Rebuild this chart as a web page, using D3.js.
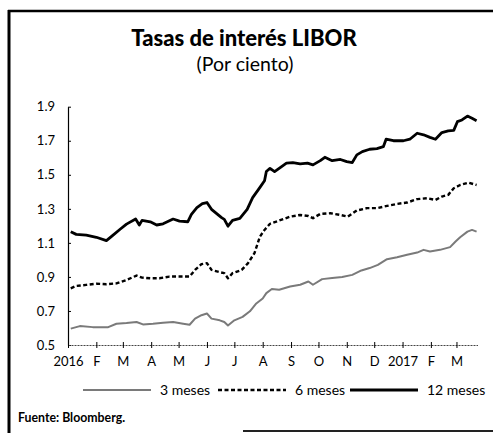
<!DOCTYPE html>
<html>
<head>
<meta charset="utf-8">
<script src="https://cdn.jsdelivr.net/npm/d3@7.9.0/dist/d3.min.js"></script>
<style>
  body { margin: 0; background: #fff; }
  svg { display: block; font-family: Lato, "Noto Sans", sans-serif; }
</style>
</head>
<body>
<svg width="493" height="433"></svg>
<script>
// dates and values for each series
const dates12 = ['2016-01-04','2016-01-10','2016-01-21','2016-02-01','2016-02-12','2016-02-18','2016-02-27','2016-03-05','2016-03-15','2016-03-19','2016-03-22','2016-03-31','2016-04-07','2016-04-14','2016-04-25','2016-05-02','2016-05-11','2016-05-15','2016-05-21','2016-05-27','2016-06-01','2016-06-06','2016-06-12','2016-06-17','2016-06-20','2016-06-24','2016-06-29','2016-07-07','2016-07-15','2016-07-21','2016-07-29','2016-08-03','2016-08-05','2016-08-09','2016-08-14','2016-08-19','2016-08-27','2016-09-03','2016-09-11','2016-09-19','2016-09-25','2016-10-03','2016-10-08','2016-10-16','2016-10-25','2016-11-01','2016-11-07','2016-11-12','2016-11-18','2016-11-26','2016-12-04','2016-12-11','2016-12-14','2016-12-22','2017-01-02','2017-01-09','2017-01-17','2017-01-24','2017-01-31','2017-02-06','2017-02-13','2017-02-20','2017-02-26','2017-03-02','2017-03-07','2017-03-13','2017-03-18','2017-03-23'];
const libor12 = [1.165,1.15,1.145,1.133,1.113,1.14,1.18,1.21,1.24,1.205,1.232,1.224,1.205,1.212,1.24,1.228,1.224,1.268,1.307,1.33,1.337,1.297,1.27,1.248,1.238,1.198,1.232,1.244,1.297,1.366,1.426,1.465,1.519,1.538,1.519,1.538,1.568,1.572,1.564,1.568,1.558,1.583,1.603,1.583,1.59,1.577,1.572,1.617,1.636,1.65,1.654,1.665,1.709,1.70,1.70,1.709,1.744,1.735,1.72,1.709,1.748,1.758,1.761,1.812,1.822,1.845,1.832,1.818];

const dates6 = ['2016-01-04','2016-01-10','2016-01-21','2016-02-01','2016-02-12','2016-02-23','2016-03-05','2016-03-16','2016-03-22','2016-03-31','2016-04-10','2016-04-21','2016-05-02','2016-05-13','2016-05-19','2016-05-26','2016-06-01','2016-06-06','2016-06-15','2016-06-20','2016-06-24','2016-06-29','2016-07-09','2016-07-16','2016-07-23','2016-07-29','2016-08-03','2016-08-09','2016-08-19','2016-08-31','2016-09-11','2016-09-20','2016-09-25','2016-10-03','2016-10-14','2016-10-25','2016-11-02','2016-11-12','2016-11-23','2016-12-04','2016-12-15','2016-12-26','2017-01-06','2017-01-17','2017-01-28','2017-02-06','2017-02-13','2017-02-20','2017-02-26','2017-03-05','2017-03-14','2017-03-23'];
const libor6 = [0.833,0.847,0.853,0.86,0.857,0.862,0.882,0.908,0.896,0.892,0.892,0.902,0.902,0.902,0.941,0.975,0.981,0.941,0.928,0.922,0.892,0.922,0.941,0.981,1.04,1.137,1.176,1.212,1.231,1.254,1.264,1.258,1.245,1.27,1.274,1.264,1.254,1.29,1.304,1.304,1.317,1.329,1.337,1.357,1.362,1.352,1.372,1.382,1.421,1.44,1.454,1.44];

const dates3 = ['2016-01-04','2016-01-14','2016-01-28','2016-02-14','2016-02-23','2016-03-05','2016-03-16','2016-03-23','2016-04-03','2016-04-14','2016-04-25','2016-05-06','2016-05-13','2016-05-19','2016-05-26','2016-06-01','2016-06-06','2016-06-15','2016-06-20','2016-06-24','2016-07-01','2016-07-10','2016-07-18','2016-07-25','2016-08-01','2016-08-05','2016-08-11','2016-08-19','2016-08-31','2016-09-11','2016-09-20','2016-09-25','2016-10-05','2016-10-16','2016-10-27','2016-11-07','2016-11-17','2016-11-26','2016-12-05','2016-12-15','2016-12-26','2017-01-06','2017-01-17','2017-01-24','2017-01-31','2017-02-11','2017-02-22','2017-02-28','2017-03-05','2017-03-13','2017-03-18','2017-03-23'];
const libor3 = [0.596,0.611,0.605,0.605,0.625,0.629,0.635,0.621,0.625,0.631,0.635,0.625,0.619,0.655,0.675,0.685,0.655,0.645,0.635,0.615,0.645,0.665,0.698,0.744,0.773,0.805,0.829,0.825,0.844,0.854,0.873,0.854,0.887,0.893,0.899,0.912,0.938,0.952,0.971,1.004,1.016,1.03,1.043,1.059,1.049,1.059,1.075,1.108,1.133,1.166,1.176,1.166];

const yTicks = [0.5, 0.7, 0.9, 1.1, 1.3, 1.5, 1.7, 1.9];
const monthTicks = ['2016-01-01','2016-02-01','2016-03-01','2016-04-01','2016-05-01','2016-06-01','2016-07-01','2016-08-01','2016-09-01','2016-10-01','2016-11-01','2016-12-01','2017-01-01','2017-02-01','2017-03-01'];
const monthLabels = ['2016','F','M','A','M','J','J','A','S','O','N','D','2017','F','M'];
const seriesNames = ['3 meses', '6 meses', '12 meses'];

const parse = d3.timeParse('%Y-%m-%d');
const svg = d3.select('svg');

// frame
svg.append('line').attr('x1', 9).attr('x2', 9).attr('y1', 10).attr('y2', 433)
  .attr('stroke', '#000').attr('stroke-width', 3);
svg.append('line').attr('x1', 8).attr('x2', 493).attr('y1', 11).attr('y2', 11)
  .attr('stroke', '#000').attr('stroke-width', 2.5);
svg.append('line').attr('x1', 243).attr('x2', 493).attr('y1', 431).attr('y2', 431)
  .attr('stroke', '#222').attr('stroke-width', 2);

// titles
svg.append('text').attr('x', 244).attr('y', 46).attr('text-anchor', 'middle')
  .attr('font-size', 22).attr('font-weight', 900).text('Tasas de interés LIBOR');
svg.append('text').attr('x', 245).attr('y', 71).attr('text-anchor', 'middle')
  .attr('font-size', 19.5).text('(Por ciento)');

// scales
const x = d3.scaleTime()
  .domain([parse('2016-01-01'), parse('2017-03-24')])
  .range([68, 477.5]);
const y = d3.scaleLinear().domain([0.5, 1.9]).range([345, 106.7]);

// y axis
const yAxis = svg.append('g').attr('transform', 'translate(68,0)')
  .call(d3.axisLeft(y).tickValues(yTicks).tickSize(0).tickPadding(13).tickFormat(d3.format('.1f')));
yAxis.select('.domain').attr('stroke', '#000').attr('stroke-width', 1.2);
yAxis.selectAll('text').attr('font-size', 13).attr('font-family', 'Lato').attr('fill', '#000');
yAxis.selectAll('.tick').append('line').attr('x1', 0).attr('x2', 3).attr('stroke', '#000');

// x axis
const xAxis = svg.append('g').attr('transform', 'translate(0,345)')
  .call(d3.axisBottom(x).tickValues(monthTicks.map(parse)).tickSize(0).tickPadding(12)
    .tickFormat((d, i) => monthLabels[i]));
xAxis.select('.domain').attr('stroke', '#444').attr('stroke-width', 1).attr('stroke-dasharray', '2,1');
xAxis.selectAll('text').attr('font-size', 13).attr('font-family', 'Lato').attr('fill', '#000');
xAxis.selectAll('.tick').append('line').attr('y1', -3).attr('y2', 3).attr('stroke', '#000');

// lines
const line = d3.line().x(d => x(d[0])).y(d => y(d[1]));
const zip = (ds, vs) => ds.map((d, i) => [parse(d), vs[i]]);

const styles = [
  { color: '#7a7a7a', width: 2, dash: null },
  { color: '#000', width: 2.4, dash: '4,2.5' },
  { color: '#000', width: 2.8, dash: null }
];

[[dates3, libor3], [dates6, libor6], [dates12, libor12]].forEach(([ds, vs], i) => {
  svg.append('path').datum(zip(ds, vs))
    .attr('d', line)
    .attr('fill', 'none')
    .attr('stroke', styles[i].color)
    .attr('stroke-width', styles[i].width)
    .attr('stroke-dasharray', styles[i].dash)
    .attr('stroke-linejoin', 'round');
});

// legend
const legendX = [83, 218, 350];
const legend = svg.append('g');
seriesNames.forEach((name, i) => {
  legend.append('line').attr('x1', legendX[i]).attr('x2', legendX[i] + 68)
    .attr('y1', 390).attr('y2', 390)
    .attr('stroke', styles[i].color).attr('stroke-width', styles[i].width)
    .attr('stroke-dasharray', styles[i].dash);
  legend.append('text').attr('x', legendX[i] + 77).attr('y', 395)
    .attr('font-size', 14).text(name);
});

// source
svg.append('text').attr('x', 18).attr('y', 422).attr('font-size', 12.3)
  .attr('font-weight', 'bold').text('Fuente: Bloomberg.');
</script>
</body>
</html>
